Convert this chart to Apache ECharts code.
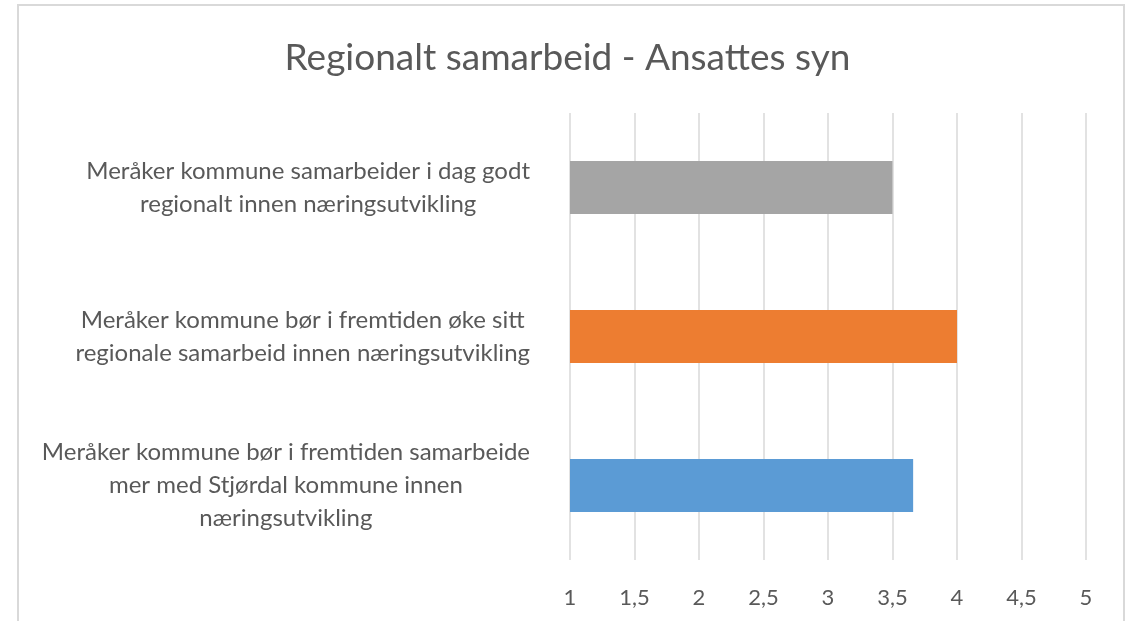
<!DOCTYPE html>
<html>
<head>
<meta charset="utf-8">
<script src="https://cdn.jsdelivr.net/npm/echarts@6/dist/echarts.min.js"></script>
<style>
  html, body { margin: 0; padding: 0; background: #ffffff; }
  #chart { width: 1135px; height: 621px; }
</style>
</head>
<body>
<div id="chart"></div>
<script>
// categories from bottom to top (ECharts draws the y category axis upwards)
var categories = [
  'Meråker kommune bør i fremtiden samarbeide\nmer med Stjørdal kommune innen\nnæringsutvikling',
  'Meråker kommune bør i fremtiden øke sitt\nregionale samarbeid innen næringsutvikling',
  'Meråker kommune samarbeider i dag godt\nregionalt innen næringsutvikling'
]
var values = [3.66, 4.0, 3.5]
var barColors = ['#5b9bd5', '#ed7d31', '#a5a5a5']
var xTicks = { min: 1, max: 5, interval: 0.5 }

var myChart = echarts.init(document.getElementById('chart'))
var textColor = '#595959'
var fontName = 'Lato'

var myChartOption = {
  animation: false,
  title: {
    text: 'Regionalt samarbeid - Ansattes syn',
    left: 'center',
    top: 35,
    textStyle: {
      fontFamily: fontName,
      fontSize: 37,
      fontWeight: 'normal',
      color: textColor
    }
  },
  grid: {
    left: 570,
    right: 49,
    top: 113,
    bottom: 61
  },
  xAxis: {
    type: 'value',
    min: xTicks.min,
    max: xTicks.max,
    interval: xTicks.interval,
    axisLine: { show: false },
    axisTick: { show: false },
    splitLine: {
      lineStyle: { color: '#d9d9d9', width: 1.5 }
    },
    axisLabel: {
      margin: 27,
      fontFamily: fontName,
      fontSize: 22,
      color: textColor,
      formatter: function (v) {
        return String(v).replace('.', ',')
      }
    }
  },
  yAxis: {
    type: 'category',
    data: categories,
    axisLine: { show: false },
    axisTick: { show: false },
    axisLabel: {
      margin: 40,
      formatter: function (v) {
        return v.split('\n').map(function (l) { return '{c|' + l + '}' }).join('\n')
      },
      rich: {
        c: {
          align: 'center',
          fontFamily: fontName,
          fontSize: 24,
          lineHeight: 33,
          color: textColor
        }
      }
    }
  },
  series: [{
    type: 'bar',
    barWidth: 53,
    data: values.map(function (v, i) {
      return { value: v, itemStyle: { color: barColors[i] } }
    })
  }],
  graphic: [{
    type: 'rect',
    shape: { x: 18, y: 5, width: 1106, height: 640 },
    style: { fill: 'none', stroke: '#d9d9d9', lineWidth: 2 },
    silent: true
  }]
}
myChart.setOption(myChartOption)
</script>
</body>
</html>
